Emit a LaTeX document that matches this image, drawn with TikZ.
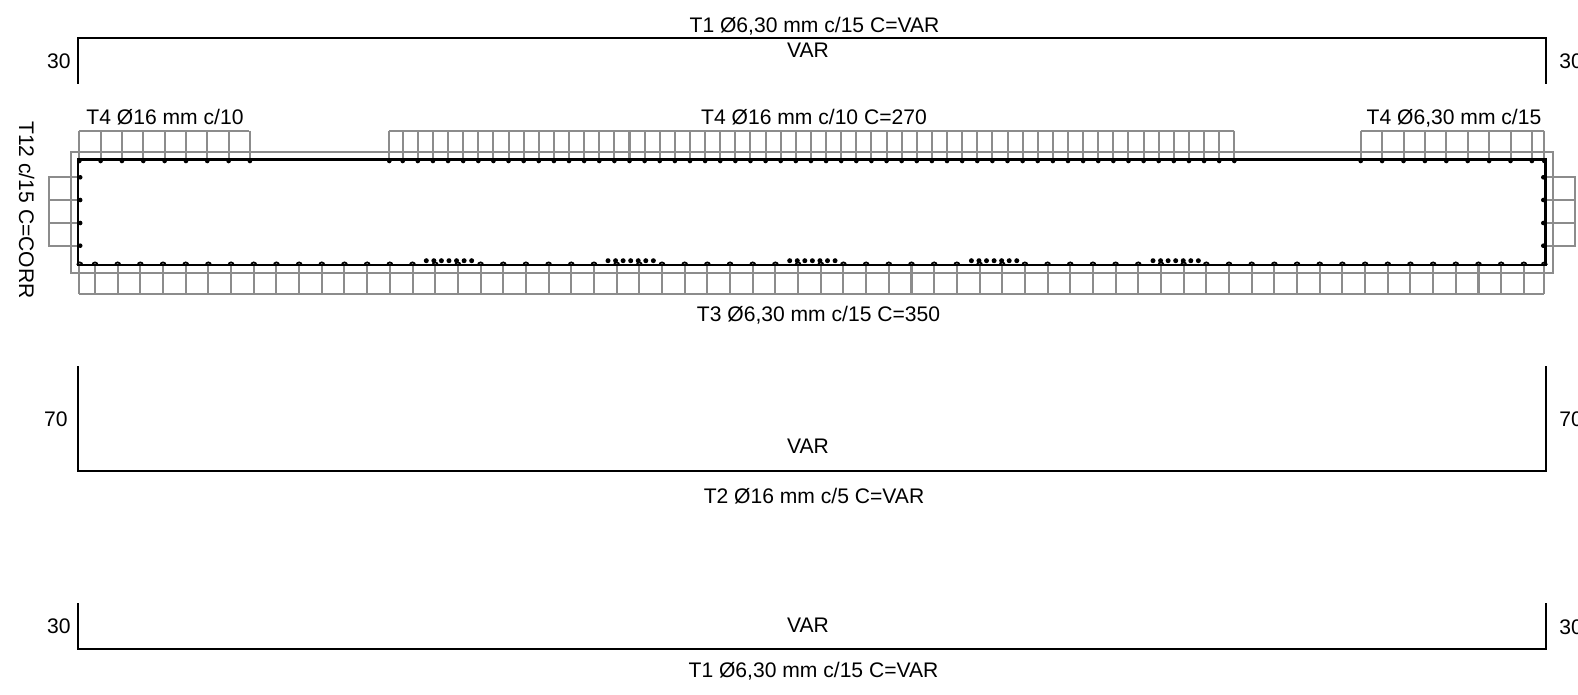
\documentclass[tikz,border=0pt]{standalone}
\usepackage{fontspec}
\setmainfont{Liberation Sans}
\definecolor{bargray}{gray}{0.55}
\tikzset{%
  dimline/.style={line width=1.15pt, black},%
  barline/.style={line width=1.15pt, bargray},%
  stirrup/.style={line width=1.3pt, black},%
  hook/.style={line width=1pt, black},%
  barlabel/.style={font=\fontsize{12.000000}{14.400000}\selectfont, inner sep=0pt},%
}
\begin{document}
\begin{tikzpicture}[x=0.02cm, y=-0.02cm]%
\useasboundingbox (0, 0) rectangle (1578, 694);%
\draw[dimline] (78, 83.5) -- (78, 38.2) -- (1545.5, 38.2) -- (1545.5, 83.5);%
\draw[dimline] (78, 366) -- (78, 471) -- (1545.5, 471) -- (1545.5, 366);%
\draw[dimline] (78, 603) -- (78, 648.5) -- (1545.5, 648.5) -- (1545.5, 603);%
\draw[barline] (70.7, 151.7) rectangle (1552.7, 273.3);%
\draw[barline] (79.3, 130.7) -- (249, 130.7);%
\foreach \x in {0,...,8} {\draw[barline] ({79.3 + 21.33*\x}, 130.7) -- ({79.3 + 21.33*\x}, 160);}%
\draw[barline] (389.3, 130.7) -- (1234.3, 130.7);%
\draw[barline] (389.3, 130.7) -- (389.3, 160);%
\foreach \x in {0,...,55} {\draw[barline] ({402.7 + 15.12*\x}, 130.7) -- ({402.7 + 15.12*\x}, 160);}%
\draw[barline] (1360.7, 130.7) -- (1544.3, 130.7);%
\draw[barline] (1544.3, 130.7) -- (1544.3, 160);%
\foreach \x in {0,...,8} {\draw[barline] ({1360.7 + 21.4*\x}, 130.7) -- ({1360.7 + 21.4*\x}, 160);}%
\draw[barline] (79.3, 294.3) -- (1544.3, 294.3);%
\draw[barline] (79.3, 265) -- (79.3, 294.3);%
\draw[barline] (1544.3, 265) -- (1544.3, 294.3);%
\foreach \x in {0,...,63} {\draw[barline] ({95 + 22.68*\x}, 265) -- ({95 + 22.68*\x}, 294.3);}%
\draw[barline] (78, 177.3) -- (49.3, 177.3) -- (49.3, 245.7) -- (78, 245.7);%
\draw[barline] (49.3, 200) -- (78, 200);%
\draw[barline] (49.3, 223) -- (78, 223);%
\draw[barline] (1545, 177.3) -- (1574.7, 177.3) -- (1574.7, 245.7) -- (1545, 245.7);%
\draw[barline] (1545, 200) -- (1574.7, 200);%
\draw[barline] (1545, 223) -- (1574.7, 223);%
\draw[stirrup] (78, 159.5) rectangle (1545.5, 265);%
\foreach \x in {0,...,8} {\fill ({79.3 + 21.33*\x}, 161) circle (2.3);}%
\fill (389.3, 161) circle (2.3);%
\foreach \x in {0,...,55} {\fill ({402.7 + 15.12*\x}, 161) circle (2.3);}%
\foreach \x in {0,...,8} {\fill ({1360.7 + 21.4*\x}, 161) circle (2.3);}%
\fill (1544.3, 161) circle (2.3);%
\foreach \x in {0,...,63} {\draw[hook] ({95 + 22.68*\x - 2.6}, 265) arc[start angle=180, end angle=360, radius=2.6];}%
\draw[hook] (77.2, 265) arc[start angle=180, end angle=360, radius=2.6];%
\draw[hook] (1541.7, 265) arc[start angle=180, end angle=360, radius=2.6];%
\foreach \y in {177.3,200,223,245.7} {\fill (80.2, \y) circle (2.3); \fill (1543.3, \y) circle (2.3);}%
\foreach \g in {426.3,608,789.7,971.4,1153} {\foreach \x in {0,...,6} {\fill ({\g + 7.56*\x}, 260.7) circle (2.5);}}%
\node[barlabel] (t1top) at (814.5, 26.5) {T1 Ø6,30 mm c/15 C=VAR};%
\node[barlabel] (vartop) at (808, 50.3) {VAR};%
\node[barlabel, anchor=east] (h30a) at (71, 61.5) {30};%
\node[barlabel, anchor=west] (h30b) at (1559, 61.5) {30};%
\node[barlabel] (t4left) at (165, 116.7) {T4 Ø16 mm c/10};%
\node[barlabel] (t4mid) at (814, 116.7) {T4 Ø16 mm c/10 C=270};%
\node[barlabel] (t4right) at (1454, 118) {T4 Ø6,30 mm c/15};%
\node[barlabel, rotate=-90] (t12) at (26.7, 210) {T12 c/15 C=CORR};%
\node[barlabel] (t3) at (818.5, 315.3) {T3 Ø6,30 mm c/15 C=350};%
\node[barlabel, anchor=east] (h70a) at (68, 419) {70};%
\node[barlabel, anchor=west] (h70b) at (1559, 419) {70};%
\node[barlabel] (varmid) at (808, 446) {VAR};%
\node[barlabel] (t2) at (814, 496) {T2 Ø16 mm c/5 C=VAR};%
\node[barlabel, anchor=east] (h30c) at (71, 626) {30};%
\node[barlabel, anchor=west] (h30d) at (1559, 627) {30};%
\node[barlabel] (varbot) at (808, 625.5) {VAR};%
\node[barlabel] (t1bot) at (813.5, 671.5) {T1 Ø6,30 mm c/15 C=VAR};%
\end{tikzpicture}
\end{document}
